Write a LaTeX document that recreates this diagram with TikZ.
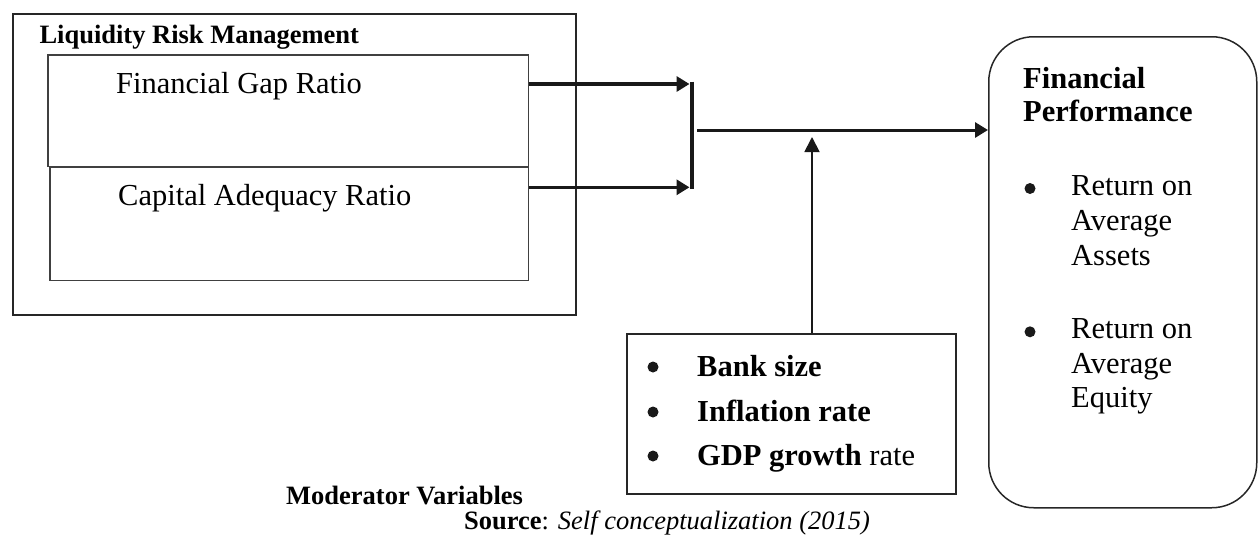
\documentclass[tikz,border=0pt]{standalone}
\usepackage{fontspec}
\setmainfont{Liberation Serif}
\usepackage{tikz}
\usetikzlibrary{positioning,arrows.meta}

\newcommand{\bodysize}{\fontsize{30.5}{35}\selectfont}
\newcommand{\smallsize}{\fontsize{26.5}{31}\selectfont}

\tikzset{
  frame/.style={draw=black!85, line width=2pt, inner sep=0pt, anchor=north west},
  ratiobox/.style={draw=black!75, line width=1.4pt, inner sep=0pt, anchor=north west},
  txt/.style={inner sep=0pt, anchor=base west, font=\bodysize},
  dot/.style={circle, fill=black!90, inner sep=0pt, minimum size=11pt},
  flow/.style={draw=black!90, line width=3.3pt, -{Triangle[length=13pt,width=15pt]}},
  modflow/.style={draw=black!90, line width=1.8pt, -{Triangle[length=15pt,width=15pt]}},
}

\begin{document}
\begin{tikzpicture}[x=1pt, y=-1pt]
    \useasboundingbox (0,0) rectangle (1258,536);

    % independent variables
    \node[frame, minimum width=563pt, minimum height=301pt] (lrm) at (11.7,12.7) {};
    \node[ratiobox, minimum width=480.7pt, minimum height=111.7pt] (gap) at (47.3,54.3) {};
    \node[ratiobox, minimum width=478.7pt, minimum height=113.3pt] (car) at (49.3,166.7) {};
    \node[txt, font=\smallsize\bfseries] (lrmlabel) at (39.3,43.3) {Liquidity Risk Management};
    \node[txt] (gaplabel) at (116,93.3) {Financial Gap Ratio};
    \node[txt] (carlabel) at (118,205) {Capital Adequacy Ratio};

    % dependent variable
    \node[frame, line width=1.5pt, rounded corners=45pt, minimum width=268pt, minimum height=471pt] (perf) at (988,36) {};
    \node[txt, font=\bodysize\bfseries] (perf1) at (1023,88.3) {Financial};
    \node[txt, font=\bodysize\bfseries] (perf2) at (1023,121.7) {Performance};
    \node[dot] (b1) at (1030,188.5) {};
    \node[txt] (roa1) at (1071,195) {Return on};
    \node[txt] (roa2) at (1071,230) {Average};
    \node[txt] (roa3) at (1071,265) {Assets};
    \node[dot] (b2) at (1030,331.8) {};
    \node[txt] (roe1) at (1071,338.3) {Return on};
    \node[txt] (roe2) at (1071,373) {Average};
    \node[txt] (roe3) at (1071,407) {Equity};

    % moderators
    \node[frame, minimum width=329pt, minimum height=160pt] (mod) at (626,333) {};
    \node[dot] (m1) at (653,367) {};
    \node[dot] (m2) at (653,412) {};
    \node[dot] (m3) at (653,456) {};
    \node[txt, font=\bodysize\bfseries] (size) at (697,376) {Bank size};
    \node[txt, font=\bodysize\bfseries] (infl) at (697,421) {Inflation rate};
    \node[txt] (gdp) at (697,465) {\textbf{GDP growth} rate};
    \node[txt, font=\smallsize\bfseries] (modlabel) at (286,504) {Moderator Variables};
    \node[txt, font=\smallsize] (source) at (464,529) {\textbf{Source}: \textit{Self conceptualization (2015)}};

    % connectors
    \coordinate (bartop) at (691.5,81.7);
    \coordinate (barbot) at (691.5,188.5);
    \coordinate (hub) at (697,130);
    \coordinate (modtip) at (812,137);
    \draw[line width=4pt, black!90] (bartop) -- (barbot);
    \draw[flow] (gap.east |- 0,84) -- (689.5,84);
    \draw[flow] (car.east |- 0,187.3) -- (689.5,187.3);
    \draw[flow, line width=3pt] (hub) -- (perf.west |- hub);
    \draw[modflow] (mod.north -| modtip) -- (modtip);
\end{tikzpicture}
\end{document}
